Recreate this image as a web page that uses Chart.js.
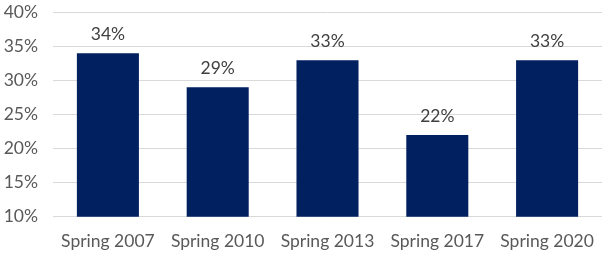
<!DOCTYPE html>
<html><head><meta charset="utf-8">
<script src="https://cdn.jsdelivr.net/npm/chart.js@4/dist/chart.umd.min.js"></script>
<style>html,body{margin:0;padding:0;background:#fff;}#wrap{width:602px;height:261px;}</style>
</head><body><div id="wrap"><canvas id="c" width="602" height="261"></canvas></div>
<script>
const categories = ["Spring 2007", "Spring 2010", "Spring 2013", "Spring 2017", "Spring 2020"];
const values = [34, 29, 33, 22, 33];
const yTicks = [10, 15, 20, 25, 30, 35, 40];

const FONT = "Lato";
const labelPlugin = {
  id: 'labels',
  afterDatasetsDraw(chart) {
    const ctx = chart.ctx;
    const meta = chart.getDatasetMeta(0);
    ctx.save();
    ctx.font = "17.5px " + FONT;
    ctx.fillStyle = "#404040";
    ctx.textAlign = "center";
    ctx.textBaseline = "alphabetic";
    meta.data.forEach((el, i) => {
      ctx.fillText(values[i] + "%", el.x, el.y - 13);
    });
    ctx.restore();
  }
};

new Chart(document.getElementById('c'), {
  type: 'bar',
  data: { labels: categories, datasets: [{ data: values, backgroundColor: '#002060', borderWidth: 0, categoryPercentage: 1, barPercentage: 0.565 }] },
  options: {
    responsive: false, animation: false, devicePixelRatio: 1,
    layout: { padding: { top: 12.5, right: 0, left: 0, bottom: 0 } },
    plugins: { legend: { display: false }, tooltip: { enabled: false } },
    scales: {
      x: { grid: { display: false, drawTicks: false }, border: { display: false },
           afterFit(s) { s.height = 44.3; s.paddingLeft = 0; s.paddingRight = 0; s.paddingTop = 0; s.paddingBottom = 0; },
           ticks: { color: '#595959', font: { family: FONT, size: 17.5 }, padding: 14, maxRotation: 0, autoSkip: false } },
      y: { min: 10, max: 40, afterBuildTicks(s) { s.ticks = yTicks.map(v => ({ value: v })); },
           afterFit(s) { s.width = 53; s.paddingTop = 0; s.paddingBottom = 0; },
           grid: { color: '#d9d9d9', drawTicks: false }, border: { display: false },
           ticks: { color: '#595959', font: { family: FONT, size: 17.5 }, padding: 15, callback: v => v + '%' } }
    }
  },
  plugins: [labelPlugin]
});
</script></body></html>
